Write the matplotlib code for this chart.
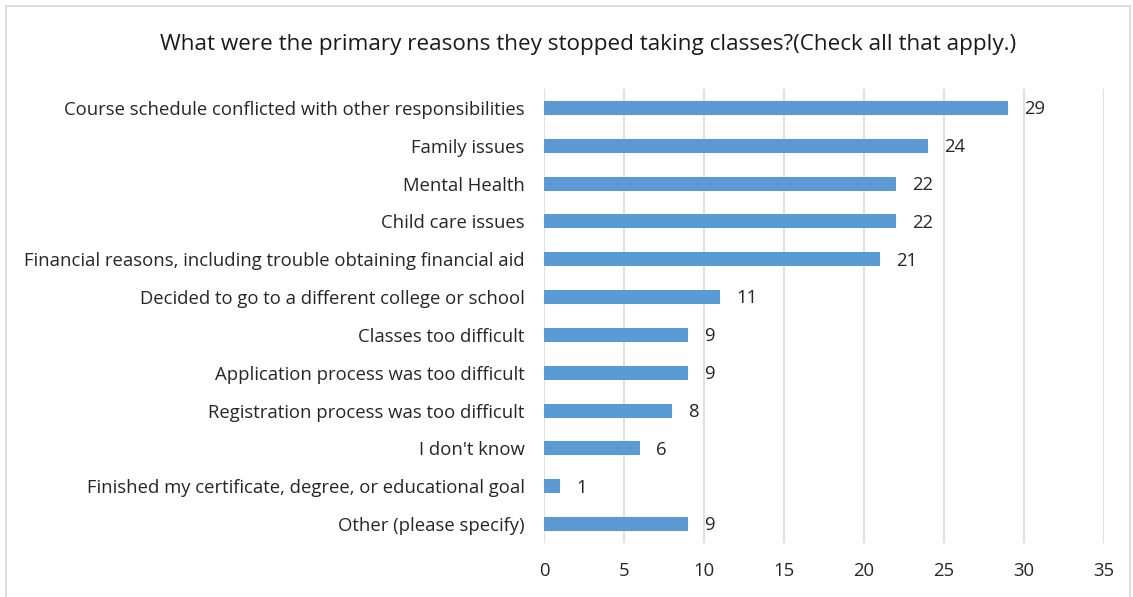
import matplotlib

matplotlib.use("Agg")
import matplotlib.pyplot as plt
from matplotlib.patches import Rectangle

categories = [
    "Course schedule conflicted with other responsibilities",
    "Family issues",
    "Mental Health",
    "Child care issues",
    "Financial reasons, including trouble obtaining financial aid",
    "Decided to go to a different college or school",
    "Classes too difficult",
    "Application process was too difficult",
    "Registration process was too difficult",
    "I don't know",
    "Finished my certificate, degree, or educational goal",
    "Other (please specify)",
]
counts = [29, 24, 22, 22, 21, 11, 9, 9, 8, 6, 1, 9]
x_ticks = [0, 5, 10, 15, 20, 25, 30, 35]
title = "What were the primary reasons they stopped taking classes?(Check all that apply.)"

plt.rcParams["font.family"] = ["Open Sans", "DejaVu Sans"]

fig = plt.figure(figsize=(11.33, 5.97), dpi=100)
ax = fig.add_axes((0.4801, 0.0905, 0.4943, 0.7604))

positions = list(range(len(categories)))
ax.barh(positions, counts, height=0.37, color="#5b9bd5", zorder=3)
for pos, value in zip(positions, counts):
    ax.annotate(
        str(value),
        xy=(value, pos),
        xytext=(11.5, -1),
        textcoords="offset points",
        ha="left",
        va="center",
        fontsize=13.3,
        color="#262626",
    )

ax.set_xlim(0, 35)
ax.set_ylim(len(categories) - 0.5, -0.5)
ax.set_xticks(x_ticks)
ax.set_yticks(positions)
ax.set_yticklabels(categories)
ax.tick_params(axis="both", length=0, labelsize=13.3, labelcolor="#262626")
ax.tick_params(axis="y", pad=14)
ax.tick_params(axis="x", pad=14)
ax.grid(axis="x", color="#d9d9d9", linewidth=1.2, zorder=0)
for spine in ax.spines.values():
    spine.set_visible(False)

fig.text(0.519, 0.925, title, ha="center", va="center", fontsize=16.2, color="#1a1a1a")
fig.patches.append(
    Rectangle((0.005, -0.01), 0.992, 1.0, transform=fig.transFigure,
              fill=False, edgecolor="#d9d9d9", linewidth=1.2)
)

fig.savefig("out.png", dpi=100)
